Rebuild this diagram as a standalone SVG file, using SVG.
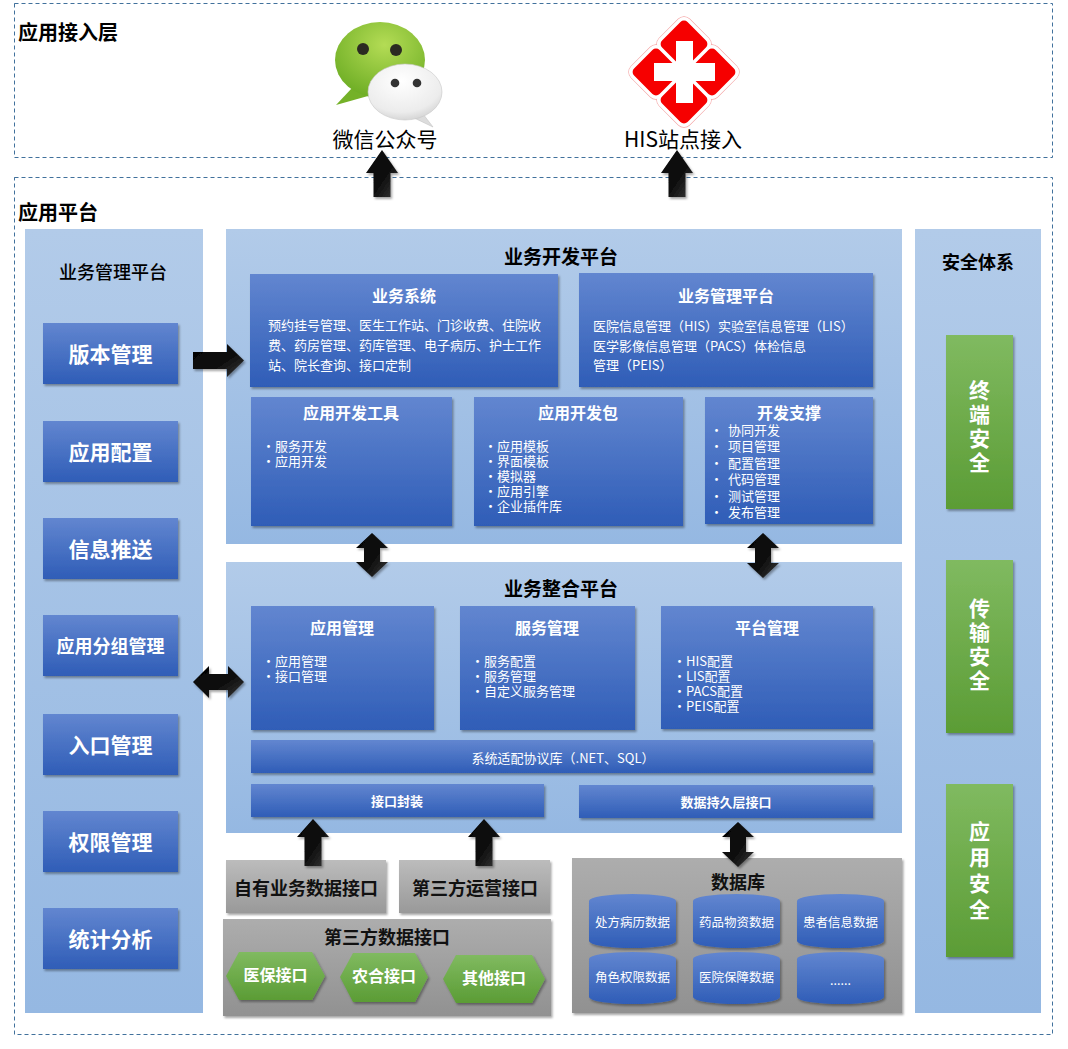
<svg xmlns="http://www.w3.org/2000/svg" width="1068" height="1049" viewBox="0 0 1068 1049">
<defs>
<linearGradient id="gPanel" x1="0" y1="0" x2="0" y2="1"><stop offset="0" stop-color="#b2cbe9"/><stop offset="1" stop-color="#95b8e2"/></linearGradient>
<linearGradient id="gBlue" x1="0" y1="0" x2="0" y2="1"><stop offset="0" stop-color="#6286d0"/><stop offset="1" stop-color="#2f5db7"/></linearGradient>
<linearGradient id="gGrey" x1="0" y1="0" x2="0" y2="1"><stop offset="0" stop-color="#bcbcbc"/><stop offset="1" stop-color="#999"/></linearGradient>
<linearGradient id="gGrey2" x1="0" y1="0" x2="0" y2="1"><stop offset="0" stop-color="#adadad"/><stop offset="1" stop-color="#919191"/></linearGradient>
<linearGradient id="gGreen" x1="0" y1="0" x2="0" y2="1"><stop offset="0" stop-color="#80ba60"/><stop offset="1" stop-color="#5b9c35"/></linearGradient>
<linearGradient id="gArrow" x1="0" y1="0" x2="1" y2="1"><stop offset="0" stop-color="#000"/><stop offset="0.6" stop-color="#111"/><stop offset="1" stop-color="#3a3a3a"/></linearGradient>
<radialGradient id="gWx" cx="0.55" cy="0.3" r="0.75"><stop offset="0" stop-color="#b4dc55"/><stop offset="1" stop-color="#6aab22"/></radialGradient>
<radialGradient id="gWw" cx="0.45" cy="0.3" r="0.8"><stop offset="0" stop-color="#ffffff"/><stop offset="0.7" stop-color="#ececec"/><stop offset="1" stop-color="#c8c8c8"/></radialGradient>
<filter id="sh" x="-10%" y="-10%" width="120%" height="130%"><feDropShadow dx="1.5" dy="2" stdDeviation="1.2" flood-color="#000" flood-opacity="0.35"/></filter>
<style>
text{font-family:"Noto Sans CJK SC","Liberation Sans",sans-serif;dominant-baseline:central}
.dash{fill:none;stroke:#41719c;stroke-width:1;stroke-dasharray:4 3}
.panel{fill:url(#gPanel)}
.blue{fill:url(#gBlue);filter:url(#sh)}
.grey{fill:url(#gGrey);filter:url(#sh)}
.grey2{fill:url(#gGrey2);filter:url(#sh)}
.green{fill:url(#gGreen);filter:url(#sh)}
.arrow{fill:url(#gArrow);filter:url(#sh)}
.h1{font-size:20px;font-weight:700;fill:#000}
.pt{font-size:19px;font-weight:700;fill:#000;text-anchor:middle}
.pt2{font-size:18px;font-weight:500;fill:#000;text-anchor:middle}
.bt{font-size:16px;font-weight:700;fill:#fff;text-anchor:middle}
.btn{font-size:21px;font-weight:700;fill:#fff;text-anchor:middle}
.body{font-size:13px;fill:#fff}
.bar{font-size:13px;fill:#fff;text-anchor:middle}
.barb{font-size:13px;font-weight:700;fill:#fff;text-anchor:middle}
.gt{font-size:18px;font-weight:700;fill:#111;text-anchor:middle}
.hex{font-size:16px;font-weight:700;fill:#fff;text-anchor:middle}
.cyl{font-size:12.5px;fill:#fff;text-anchor:middle}
.vt{font-size:21px;font-weight:700;fill:#fff;text-anchor:middle;writing-mode:vertical-rl;letter-spacing:3px}
.icon{font-size:21px;fill:#000;text-anchor:middle}
</style>
</defs>
<rect width="1068" height="1049" fill="#fff"/>

<g id="layer-access">
<rect class="dash" x="14.5" y="3.5" width="1038" height="154"/>
<text class="h1" x="18" y="31">应用接入层</text>
</g>
<g id="layer-platform">
<rect class="dash" x="14.5" y="177.5" width="1038" height="857"/>
<text class="h1" x="18" y="211">应用平台</text>
</g>

<g id="wechat">
<path d="M352,88 L336,105 L368,96 Z" fill="#74b128"/>
<ellipse cx="380" cy="60" rx="45" ry="38" fill="url(#gWx)"/>
<circle cx="363" cy="49" r="6" fill="#2b2b22"/>
<circle cx="396" cy="50" r="6" fill="#2b2b22"/>
<path d="M420,110 L433,127 L410,116 Z" fill="#dcdcdc" stroke="#c4c4c4" stroke-width="0.6"/>
<ellipse cx="405" cy="92" rx="37" ry="28" fill="url(#gWw)" stroke="#c8c8c8" stroke-width="0.6"/>
<circle cx="395" cy="83" r="4.3" fill="#333"/>
<circle cx="417" cy="83" r="4.3" fill="#333"/>
<text class="icon" x="385" y="138">微信公众号</text>
</g>

<g id="his">
<g fill="none" stroke="#f5a3a3" stroke-width="1.2">
<rect x="-21.5" y="-21.5" width="43" height="43" rx="8" transform="translate(684,44) rotate(45)"/>
<rect x="-21.5" y="-21.5" width="43" height="43" rx="8" transform="translate(656,72) rotate(45)"/>
<rect x="-21.5" y="-21.5" width="43" height="43" rx="8" transform="translate(712,72) rotate(45)"/>
<rect x="-21.5" y="-21.5" width="43" height="43" rx="8" transform="translate(684,100) rotate(45)"/>
</g>
<g fill="#fff">
<rect x="-21.5" y="-21.5" width="43" height="43" rx="8" transform="translate(684,44) rotate(45)"/>
<rect x="-21.5" y="-21.5" width="43" height="43" rx="8" transform="translate(656,72) rotate(45)"/>
<rect x="-21.5" y="-21.5" width="43" height="43" rx="8" transform="translate(712,72) rotate(45)"/>
<rect x="-21.5" y="-21.5" width="43" height="43" rx="8" transform="translate(684,100) rotate(45)"/>
</g>
<g fill="#f60000">
<rect x="-18" y="-18" width="36" height="36" rx="5" transform="translate(684,44) rotate(45)"/>
<rect x="-18" y="-18" width="36" height="36" rx="5" transform="translate(656,72) rotate(45)"/>
<rect x="-18" y="-18" width="36" height="36" rx="5" transform="translate(712,72) rotate(45)"/>
<rect x="-18" y="-18" width="36" height="36" rx="5" transform="translate(684,100) rotate(45)"/>
</g>
<rect x="654" y="63" width="61" height="18" fill="#fff"/>
<rect x="676" y="41" width="17" height="62" fill="#fff"/>
<text class="icon" x="683" y="138">HIS站点接入</text>
</g>

<g id="biz-mgmt-platform">
<rect class="panel" x="25" y="229" width="178" height="784"/>
<text class="pt2" x="113" y="271">业务管理平台</text>
<g id="btn-version"><rect class="blue" x="43" y="323" width="135" height="61"/><text class="btn" x="110.5" y="353">版本管理</text></g>
<g id="btn-config"><rect class="blue" x="43" y="421" width="135" height="61"/><text class="btn" x="110.5" y="451">应用配置</text></g>
<g id="btn-push"><rect class="blue" x="43" y="518" width="135" height="61"/><text class="btn" x="110.5" y="548">信息推送</text></g>
<g id="btn-group"><rect class="blue" x="43" y="615" width="135" height="61"/><text class="btn" x="110.5" y="645" style="font-size:18px">应用分组管理</text></g>
<g id="btn-entry"><rect class="blue" x="43" y="714" width="135" height="61"/><text class="btn" x="110.5" y="744">入口管理</text></g>
<g id="btn-perm"><rect class="blue" x="43" y="811" width="135" height="61"/><text class="btn" x="110.5" y="841">权限管理</text></g>
<g id="btn-stats"><rect class="blue" x="43" y="908" width="135" height="61"/><text class="btn" x="110.5" y="938">统计分析</text></g>
</g>

<g id="dev-platform">
<rect class="panel" x="226" y="229" width="676" height="315"/>
<text class="pt" x="561" y="255">业务开发平台</text>
<g id="biz-system">
<rect class="blue" x="250" y="274" width="308" height="113"/>
<text class="bt" x="404" y="295">业务系统</text>
<text class="body"><tspan x="268" y="324">预约挂号管理、医生工作站、门诊收费、住院收</tspan><tspan x="268" y="344">费、药房管理、药库管理、电子病历、护士工作</tspan><tspan x="268" y="364">站、院长查询、接口定制</tspan></text>
</g>
<g id="biz-mgmt">
<rect class="blue" x="579" y="273" width="294" height="114"/>
<text class="bt" x="726" y="295">业务管理平台</text>
<text class="body"><tspan x="593" y="325">医院信息管理（HIS）实验室信息管理（LIS）</tspan><tspan x="593" y="345">医学影像信息管理（PACS）体检信息</tspan><tspan x="593" y="364">管理（PEIS）</tspan></text>
</g>
<g id="dev-tools">
<rect class="blue" x="251" y="397" width="201" height="129"/>
<text class="bt" x="351" y="412">应用开发工具</text>
<text class="body"><tspan x="262" y="445">•</tspan><tspan x="275">服务开发</tspan><tspan x="262" y="460">•</tspan><tspan x="275">应用开发</tspan></text>
</g>
<g id="dev-kit">
<rect class="blue" x="474" y="397" width="209" height="129"/>
<text class="bt" x="578" y="412">应用开发包</text>
<text class="body"><tspan x="484" y="445">•</tspan><tspan x="497">应用模板</tspan><tspan x="484" y="460">•</tspan><tspan x="497">界面模板</tspan><tspan x="484" y="475">•</tspan><tspan x="497">模拟器</tspan><tspan x="484" y="490">•</tspan><tspan x="497">应用引擎</tspan><tspan x="484" y="505">•</tspan><tspan x="497">企业插件库</tspan></text>
</g>
<g id="dev-support">
<rect class="blue" x="705" y="397" width="168" height="127"/>
<text class="bt" x="789" y="412">开发支撑</text>
<text class="body"><tspan x="710" y="429">•</tspan><tspan x="728">协同开发</tspan><tspan x="710" y="445">•</tspan><tspan x="728">项目管理</tspan><tspan x="710" y="462">•</tspan><tspan x="728">配置管理</tspan><tspan x="710" y="478">•</tspan><tspan x="728">代码管理</tspan><tspan x="710" y="495">•</tspan><tspan x="728">测试管理</tspan><tspan x="710" y="511">•</tspan><tspan x="728">发布管理</tspan></text>
</g>
</g>

<g id="integration-platform">
<rect class="panel" x="226" y="562" width="676" height="271"/>
<text class="pt" x="561" y="587">业务整合平台</text>
<g id="app-mgmt">
<rect class="blue" x="251" y="606" width="183" height="124"/>
<text class="bt" x="342" y="627">应用管理</text>
<text class="body"><tspan x="262" y="660">•</tspan><tspan x="275">应用管理</tspan><tspan x="262" y="675">•</tspan><tspan x="275">接口管理</tspan></text>
</g>
<g id="svc-mgmt">
<rect class="blue" x="460" y="606" width="175" height="124"/>
<text class="bt" x="547" y="627">服务管理</text>
<text class="body"><tspan x="471" y="660">•</tspan><tspan x="484">服务配置</tspan><tspan x="471" y="675">•</tspan><tspan x="484">服务管理</tspan><tspan x="471" y="690">•</tspan><tspan x="484">自定义服务管理</tspan></text>
</g>
<g id="plat-mgmt">
<rect class="blue" x="661" y="606" width="212" height="123"/>
<text class="bt" x="767" y="627">平台管理</text>
<text class="body"><tspan x="673" y="660">•</tspan><tspan x="686">HIS配置</tspan><tspan x="673" y="675">•</tspan><tspan x="686">LIS配置</tspan><tspan x="673" y="690">•</tspan><tspan x="686">PACS配置</tspan><tspan x="673" y="705">•</tspan><tspan x="686">PEIS配置</tspan></text>
</g>
<g id="protocol-lib">
<rect class="blue" x="251" y="740" width="622" height="33"/>
<text class="bar" x="563" y="757">系统适配协议库（.NET、SQL）</text>
</g>
<g id="if-wrap">
<rect class="blue" x="251" y="784" width="293" height="33"/>
<text class="barb" x="397" y="800">接口封装</text>
</g>
<g id="persist-if">
<rect class="blue" x="579" y="785" width="294" height="33"/>
<text class="barb" x="726" y="801">数据持久层接口</text>
</g>
</g>

<g id="own-data-if">
<rect class="grey" x="226" y="860" width="160" height="53"/>
<text class="gt" x="306" y="887">自有业务数据接口</text>
</g>
<g id="third-op-if">
<rect class="grey" x="399" y="860" width="151" height="53"/>
<text class="gt" x="475" y="887">第三方运营接口</text>
</g>
<g id="third-data-if">
<rect class="grey2" x="223" y="919" width="328" height="97"/>
<text class="gt" x="387" y="936">第三方数据接口</text>
<g id="hex-yibao"><path class="green" d="M226,976 L239,952 L312,952 L325,976 L312,1000 L239,1000 Z"/><text class="hex" x="275.5" y="974">医保接口</text></g>
<g id="hex-nonghe"><path class="green" d="M340,977 L353,953 L415,953 L428,977 L415,1002 L353,1002 Z"/><text class="hex" x="384" y="975">农合接口</text></g>
<g id="hex-other"><path class="green" d="M443,979 L456,955 L532,955 L545,979 L532,1003 L456,1003 Z"/><text class="hex" x="494" y="977">其他接口</text></g>
</g>

<g id="database">
<rect class="grey2" x="572" y="858" width="330" height="155"/>
<text class="gt" x="738" y="881">数据库</text>
<g id="db-rx"><path class="blue" d="M589,901 A43.5,7 0 0 1 676,901 L676,941 A43.5,7 0 0 1 589,941 Z"/><text class="cyl" x="632.5" y="921">处方病历数据</text></g>
<g id="db-drug"><path class="blue" d="M693,901 A43.5,7 0 0 1 780,901 L780,941 A43.5,7 0 0 1 693,941 Z"/><text class="cyl" x="736.5" y="921">药品物资数据</text></g>
<g id="db-patient"><path class="blue" d="M797,901 A43.5,7 0 0 1 884,901 L884,941 A43.5,7 0 0 1 797,941 Z"/><text class="cyl" x="840.5" y="921">患者信息数据</text></g>
<g id="db-role"><path class="blue" d="M589,959 A43.5,7 0 0 1 676,959 L676,997 A43.5,7 0 0 1 589,997 Z"/><text class="cyl" x="632.5" y="976">角色权限数据</text></g>
<g id="db-hosp"><path class="blue" d="M693,959 A43.5,7 0 0 1 780,959 L780,997 A43.5,7 0 0 1 693,997 Z"/><text class="cyl" x="736.5" y="976">医院保障数据</text></g>
<g id="db-more"><path class="blue" d="M797,959 A43.5,7 0 0 1 884,959 L884,997 A43.5,7 0 0 1 797,997 Z"/><text class="cyl" x="840.5" y="979">......</text></g>
</g>

<g id="security">
<rect class="panel" x="915" y="229" width="126" height="784"/>
<text class="gt" x="978" y="261" style="fill:#000">安全体系</text>
<g id="sec-terminal">
<rect class="green" x="946" y="335" width="67" height="174"/>
<text class="vt" x="979.5" y="428">终端安全</text>
</g>
<g id="sec-transport">
<rect class="green" x="946" y="560" width="67" height="173"/>
<text class="vt" x="979.5" y="646">传输安全</text>
</g>
<g id="sec-app">
<rect class="green" x="946" y="784" width="67" height="173"/>
<text class="vt" x="979.5" y="873" style="letter-spacing:5px">应用安全</text>
</g>
</g>

<g id="connectors">
<path class="arrow" d="M382,150 L398,173 L390.5,173 L390.5,197 L373.5,197 L373.5,173 L366,173 Z"/>
<path class="arrow" d="M677,150 L693,173 L685.5,173 L685.5,197 L668.5,197 L668.5,173 L661,173 Z"/>
<path class="arrow" d="M193,352 L227,352 L227,344 L244,360.5 L227,377 L227,369 L193,369 Z"/>
<path class="arrow" d="M193,682 L209,666 L209,674 L228,674 L228,666 L244,682 L228,698 L228,690 L209,690 L209,698 Z"/>
<path class="arrow" d="M372,533 L388,548 L380,548 L380,562 L388,562 L372,577 L356,562 L364,562 L364,548 L356,548 Z"/>
<path class="arrow" d="M763,533 L779,548 L771,548 L771,563 L779,563 L763,578 L747,563 L755,563 L755,548 L747,548 Z"/>
<path class="arrow" d="M738,822 L754,837 L746,837 L746,852 L754,852 L738,867 L722,852 L730,852 L730,837 L722,837 Z"/>
<path class="arrow" d="M313,819 L329,837 L321.5,837 L321.5,866 L304.5,866 L304.5,837 L297,837 Z"/>
<path class="arrow" d="M484,819 L500,837 L492.5,837 L492.5,866 L475.5,866 L475.5,837 L468,837 Z"/>
</g>
</svg>
